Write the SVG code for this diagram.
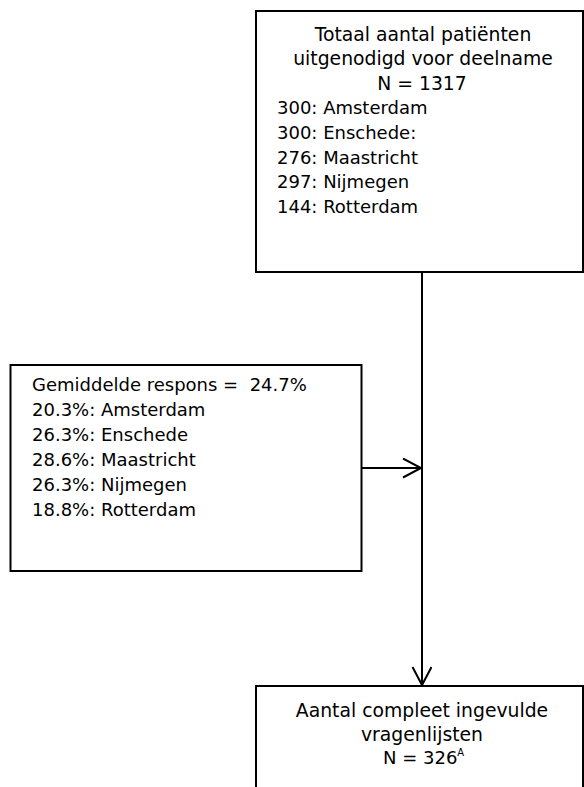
<svg xmlns="http://www.w3.org/2000/svg" width="584" height="787" viewBox="0 0 584 787">
<style>
.box{fill:#fff;stroke:#000;stroke-width:2}
.t{font-family:"DejaVu Sans",Verdana,sans-serif;font-size:18px;fill:#000}
.c{text-anchor:middle;font-size:18.8px}
.edge{fill:none;stroke:#000;stroke-width:2}
</style>
<defs>
<marker id="arr" markerUnits="userSpaceOnUse" markerWidth="24" markerHeight="24" refX="19" refY="10" orient="auto">
<path d="M1,0.5 L19,10 L1,19.5" fill="none" stroke="#000" stroke-width="2"/>
</marker>
</defs>
<g id="connectors">
<line class="edge" x1="422" y1="272" x2="422" y2="685" marker-end="url(#arr)"/>
<line class="edge" x1="362" y1="468" x2="421" y2="468" marker-end="url(#arr)"/>
</g>
<g id="node-total">
<rect class="box" x="256" y="11" width="327" height="261"/>
<text class="t c" x="423" y="40.5">Totaal aantal patiënten</text>
<text class="t c" x="423" y="65">uitgenodigd voor deelname</text>
<text class="t c" x="422" y="89.5">N = 1317</text>
<text class="t" x="277" y="114">300: Amsterdam</text>
<text class="t" x="277" y="139">300: Enschede:</text>
<text class="t" x="277" y="163.5">276: Maastricht</text>
<text class="t" x="277" y="188">297: Nijmegen</text>
<text class="t" x="277" y="212.5">144: Rotterdam</text>
</g>
<g id="node-respons">
<rect class="box" x="10.5" y="365" width="351" height="206"/>
<text class="t" x="32" y="391" xml:space="preserve">Gemiddelde respons =  24.7%</text>
<text class="t" x="32" y="416">20.3%: Amsterdam</text>
<text class="t" x="32" y="441">26.3%: Enschede</text>
<text class="t" x="32" y="466">28.6%: Maastricht</text>
<text class="t" x="32" y="491">26.3%: Nijmegen</text>
<text class="t" x="32" y="516">18.8%: Rotterdam</text>
</g>
<g id="node-compleet">
<rect class="box" x="256" y="686" width="327" height="120"/>
<text class="t c" x="422" y="716.5">Aantal compleet ingevulde</text>
<text class="t c" x="422" y="741">vragenlijsten</text>
<text class="t" x="383" y="764">N = 326<tspan font-size="10" dy="-8">A</tspan></text>
</g>
</svg>
